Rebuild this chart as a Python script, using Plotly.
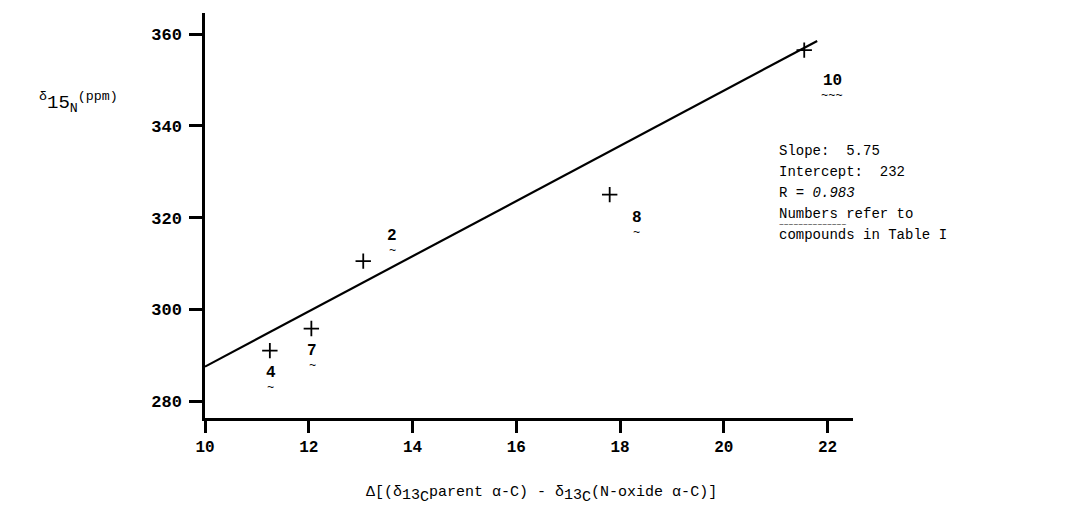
import plotly.graph_objects as go

# data
compounds = ["4", "7", "2", "8", "10"]
delta_c = [11.25, 12.05, 13.05, 17.8, 21.55]
delta_n = [291.0, 295.8, 310.5, 325.0, 356.5]

fit_x = [10.0, 21.8]
fit_y = [287.5, 358.5]

x_ticks = [10, 12, 14, 16, 18, 20, 22]
y_ticks = [280, 300, 320, 340, 360]

# label offsets (pixels) relative to each point
label_dx = [1, 1, 29, 27, 28]
label_dy = [-22, -22, 25, -23, -31]

FONT = "Liberation Mono, Courier New, monospace"

fig = go.Figure()
fig.add_trace(go.Scatter(x=fit_x, y=fit_y, mode="lines",
                         line=dict(color="black", width=2.2), showlegend=False,
                         hoverinfo="skip"))
fig.add_trace(go.Scatter(x=delta_c, y=delta_n, mode="markers",
                         marker=dict(symbol="cross-thin", size=11,
                                     line=dict(color="black", width=1.8)),
                         showlegend=False))

for c, x, y, dx, dy in zip(compounds, delta_c, delta_n, label_dx, label_dy):
    wave = "~" * (3 if len(c) > 1 else 1)
    fig.add_annotation(x=x, y=y, xshift=dx, yshift=dy, showarrow=False,
                       text=c, font=dict(family=FONT, size=16, color="black", weight="bold"))
    fig.add_annotation(x=x, y=y, xshift=dx, yshift=dy - 15, showarrow=False,
                       text=wave, font=dict(family=FONT, size=12, color="black"))

stats = ["Slope:  5.75", "Intercept:  232", "R = <i>0.983</i>",
         "Numbers refer to", "compounds in Table I"]
for i, s in enumerate(stats):
    fig.add_annotation(xref="paper", yref="paper", x=0.882, y=0.659 - i * 0.052,
                       xanchor="left", yanchor="middle", showarrow=False,
                       text=s, font=dict(family=FONT, size=14, color="black"))
fig.add_annotation(xref="paper", yref="paper", x=0.882, y=0.659 - 3 * 0.052 - 0.026,
                   xanchor="left", yanchor="middle", showarrow=False,
                   text="~~~~~~~~~~~~~~", font=dict(family=FONT, size=8, color="black"))

fig.add_annotation(xref="paper", yref="paper", x=-0.26, y=0.78,
                   xanchor="left", yanchor="middle", showarrow=False,
                   text="<sup>δ</sup>15<sub>N</sub><sup>(ppm)</sup>",
                   font=dict(family=FONT, size=19, color="black"))

sub13c = ("<sub><span style='font-size:15px'>13</span>"
          "<sub><span style='font-size:15px'>C</span></sub></sub>")
fig.add_annotation(xref="paper", yref="paper", x=0.52, y=-0.19,
                   xanchor="center", yanchor="middle", showarrow=False,
                   text="Δ[(δ" + sub13c + "parent α-C) - δ" + sub13c + "(N-oxide α-C)]",
                   font=dict(family=FONT, size=15, color="black"))

fig.update_xaxes(range=[10, 22.49], tickvals=x_ticks, ticks="outside", ticklen=12,
                 tickwidth=2.5, tickcolor="black", showline=True, linecolor="black",
                 linewidth=2.5, showgrid=False, zeroline=False,
                 tickfont=dict(family=FONT, size=16, color="black", weight="bold"))
fig.update_yaxes(range=[276.3, 364.6], tickvals=y_ticks, ticks="outside", ticklen=13,
                 tickwidth=2.5, tickcolor="black", showline=True, linecolor="black",
                 linewidth=2.5, showgrid=False, zeroline=False, ticklabelstandoff=4,
                 tickfont=dict(family=FONT, size=17, color="black", weight="bold"))

fig.update_layout(width=1079, height=517, plot_bgcolor="white", paper_bgcolor="white",
                  margin=dict(l=197, r=234, t=5, b=107))

fig.write_html("out.html")
